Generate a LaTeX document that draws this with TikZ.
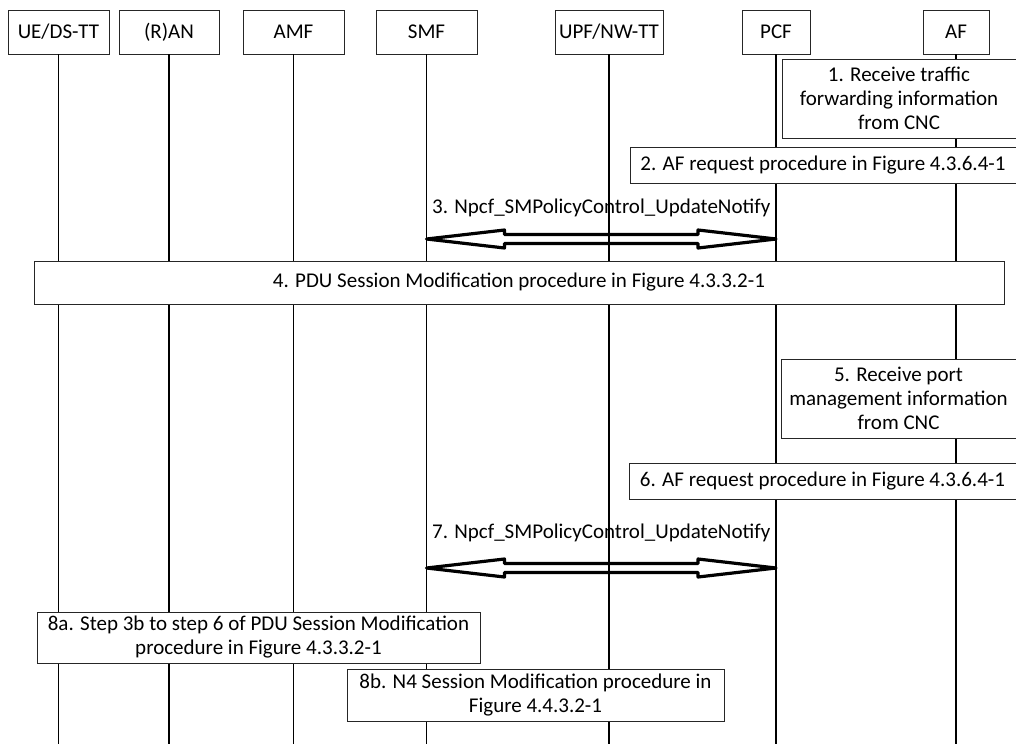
\documentclass[tikz,border=0pt]{standalone}
\usepackage{fontspec}
\setmainfont{Carlito}
\usetikzlibrary{calc}
% open double-lined arrow between two named points
\newcommand{\notifyarrow}[2]{%
  \draw[line width=3.2pt, line join=round]
    (#1) -- ($(#1)+(78,-9)$) -- ($(#1)+(78,-4.5)$) -- ($(#2)+(-78,-4.5)$)
    -- ($(#2)+(-78,-9)$) -- (#2) -- ($(#2)+(-78,9)$) -- ($(#2)+(-78,4.5)$)
    -- ($(#1)+(78,4.5)$) -- ($(#1)+(78,9)$) -- cycle;}
\begin{document}
\begin{tikzpicture}[x=1pt,y=-1pt,font=\fontsize{21}{24}\selectfont,
  entity/.style={draw=black!85,line width=0.8pt,fill=white,minimum height=44pt,inner sep=0pt},
  stepbox/.style={draw=black!85,line width=0.8pt,fill=white,inner sep=0pt,align=center},
  lifeline/.style={line width=1.8pt}]
  \useasboundingbox (0,0) rectangle (1016,744);
  % entities
  \node[entity,minimum width=101pt] (ue) at (58.5,32) {UE/DS-TT};
  \node[entity,minimum width=100pt] (ran) at (169,32) {(R)AN};
  \node[entity,minimum width=101pt] (amf) at (293.5,32) {AMF};
  \node[entity,minimum width=101pt] (smf) at (426.5,32) {SMF};
  \node[entity,minimum width=108pt] (upf) at (609,32) {UPF/NW-TT};
  \node[entity,minimum width=68pt] (pcf) at (776,32) {PCF};
  \node[entity,minimum width=66pt] (af) at (956,32) {AF};
  \coordinate (bottom) at (0,744);
  \foreach \n in {ue,ran,amf,smf,upf,pcf,af}
    \draw[lifeline] (\n.south) -- (\n.south |- bottom);
  % steps
  \node[stepbox,minimum width=234pt,minimum height=79pt] (s1) at (899,98.5)
    {1. Receive traffic\\forwarding information\\from CNC};
  \node[stepbox,minimum width=386pt,minimum height=36pt] (s2) at (823,165)
    {2. AF request procedure in Figure 4.3.6.4-1};
  \coordinate (a3l) at (smf.south |- 0,239);
  \coordinate (a3r) at (pcf.south |- 0,239);
  \notifyarrow{a3l}{a3r}
  \node (m3) at ($(a3l)!0.5!(a3r)+(0,-31)$) {3. Npcf\_SMPolicyControl\_UpdateNotify};
  \node[stepbox,minimum width=970pt,minimum height=43pt] (s4) at (519,282.5)
    {4. PDU Session Modification procedure in Figure 4.3.3.2-1};
  \node[stepbox,minimum width=235pt,minimum height=79pt] (s5) at (898.5,398.5)
    {5. Receive port\\management information\\from CNC};
  \node[stepbox,minimum width=387pt,minimum height=36pt] (s6) at (822.5,481)
    {6. AF request procedure in Figure 4.3.6.4-1};
  \coordinate (a7l) at (smf.south |- 0,568);
  \coordinate (a7r) at (pcf.south |- 0,568);
  \notifyarrow{a7l}{a7r}
  \node (m7) at ($(a7l)!0.5!(a7r)+(0,-35)$) {7. Npcf\_SMPolicyControl\_UpdateNotify};
  \node[stepbox,minimum width=443pt,minimum height=51pt] (s8a) at (258.5,637.5)
    {8a. Step 3b to step 6 of PDU Session Modification\\procedure in Figure 4.3.3.2-1};
  \node[stepbox,minimum width=377pt,minimum height=52pt] (s8b) at (535.5,695)
    {8b. N4 Session Modification procedure in\\Figure 4.4.3.2-1};
\end{tikzpicture}
\end{document}
